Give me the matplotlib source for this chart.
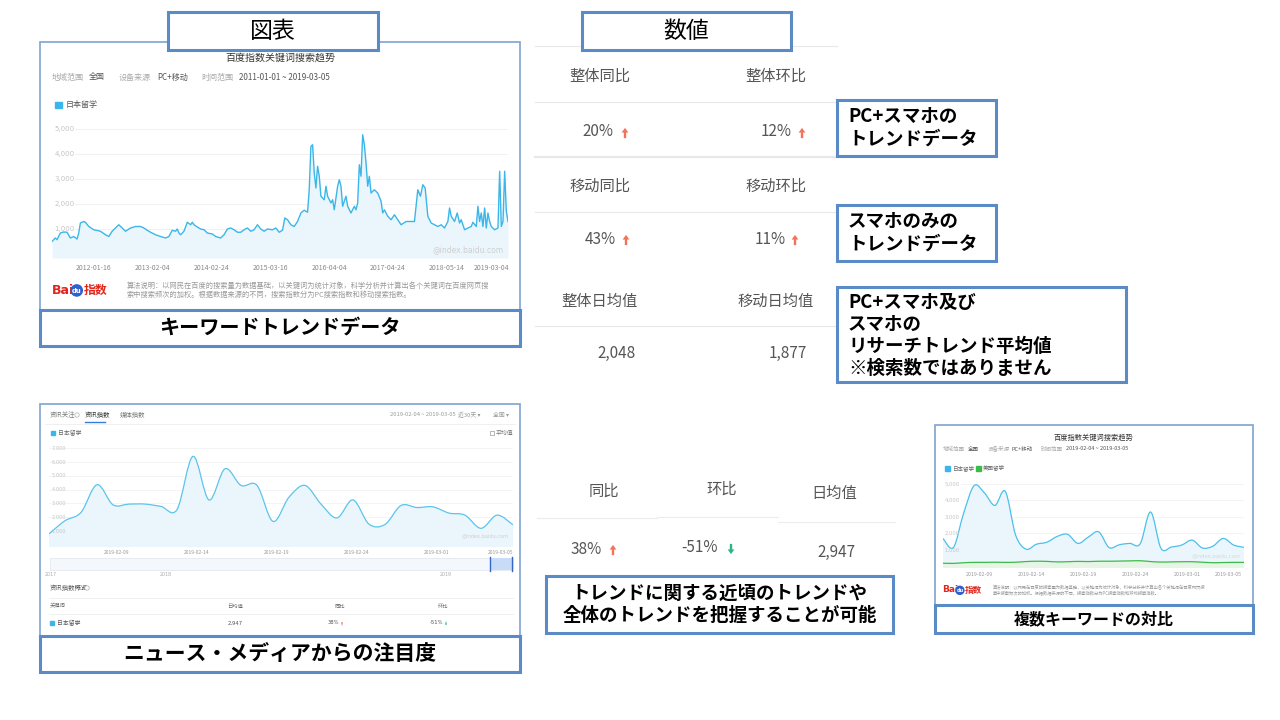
import numpy as np
import matplotlib
matplotlib.use('Agg')
import matplotlib.pyplot as plt
from matplotlib.patches import Rectangle, PathPatch, Circle, FancyArrow
from matplotlib.path import Path

plt.rcParams['font.family'] = ['Noto Sans CJK JP', 'DejaVu Sans']
SC = ['Noto Sans CJK SC', 'DejaVu Sans']
DJ = ['DejaVu Sans']

# ---------------- data ----------------
# long-term keyword trend (日本留学), relative time position and index value
trend_t = [3.5, 4.5, 5.0, 6.0, 7.0, 8.0, 9.0, 10.0, 11.0, 11.5, 12.0, 13.0, 13.5, 14.5, 16.0, 18.0,
           19.5, 20.5, 21.5, 22.5, 23.5, 24.5, 25.5, 27.0, 28.5, 30.0, 31.0, 32.0, 33.0, 34.5, 36.0,
           37.5, 38.5, 39.5, 40.5, 41.0, 41.5, 42.0, 43.0, 44.0, 45.0, 45.5, 46.0, 47.0, 48.0, 49.0,
           50.0, 51.5, 52.5, 54.0, 55.0, 56.0, 57.0, 58.0, 59.0, 60.0, 61.0, 62.0, 63.0, 64.0, 65.0,
           66.0, 67.0, 68.0, 69.5, 70.5, 71.5, 72.5, 73.2, 74.0, 75.0, 76.0, 77.0, 78.0, 79.0, 80.0,
           80.5, 81.0, 81.5, 82.0, 82.5, 83.0, 83.5, 84.0, 85.0, 85.5, 86.0, 87.0, 87.5, 88.0, 89.0,
           89.5, 90.0, 90.5, 91.5, 92.0, 93.0, 94.0, 94.5, 95.0, 95.5, 96.0, 96.5, 97.0, 97.5, 98.0,
           98.5, 99.0, 100.0, 101.0, 102.0, 102.5, 103.0, 104.0, 105.0, 106.0, 107.0, 108.0, 109.5,
           111.0, 112.0, 113.0, 113.8, 114.5, 115.2, 116.0, 117.0, 118.0, 119.0, 120.0, 121.0, 122.0,
           122.5, 123.0, 124.0, 124.8, 125.5, 126.0, 127.0, 128.0, 129.0, 129.5, 130.5, 131.0, 131.5,
           132.0, 132.5, 133.0, 133.5, 134.0, 134.5, 135.0, 136.0, 137.0, 137.5, 138.0, 138.5, 139.0,
           139.5, 140.0]
trend_val = [500, 640, 570, 840, 880, 870, 640, 700, 600, 840, 1240, 1300, 1270, 1100, 970, 910,
             770, 700, 910, 1040, 1170, 1040, 910, 1040, 1100, 1100, 1040, 950, 870, 770, 700,
             640, 700, 950, 910, 1000, 840, 770, 910, 1270, 1170, 1270, 1170, 1080, 1000, 970,
             840, 800, 700, 640, 770, 1000, 1040, 970, 870, 870, 970, 1040, 910, 970, 1170,
             1000, 910, 1000, 970, 1040, 870, 950, 1440, 1370, 1170, 1100, 1300, 1640, 1750, 1670,
             2570, 4300, 4370, 3240, 2640, 3510, 3110, 2310, 2170, 2710, 2310, 2040, 2170, 1770, 2710,
             2970, 2710, 1910, 2310, 1910, 1640, 1910, 1770, 2040, 3570, 3110, 4770, 4370, 3640, 2710,
             3110, 2440, 2570, 2440, 2110, 1640, 1770, 1510, 1370, 1570, 1370, 1170, 1300,
             1300, 1300, 2570, 2310, 2770, 2640, 1510, 1240, 1170, 1100, 1170, 1040, 1300,
             1840, 1510, 1300, 1640, 1240, 1370, 970, 1040, 1100, 1270, 1100, 1910, 1300,
             1640, 1100, 1840, 1040, 1640, 1300, 1100, 970, 1040, 3310, 1100, 1300, 3310,
             1710, 1300]
trend_ticks = [16.0, 33.5, 51.2, 68.8, 86.5, 104.0, 121.7, 135.0]
trend_tick_labels = ['2012-01-16', '2013-02-04', '2014-02-24', '2015-03-16', '2016-04-04',
                     '2017-04-24', '2018-05-14', '2019-03-04']
trend_yticks = [1000, 2000, 3000, 4000, 5000]

# news index (资讯指数), daily 2019-02-04 .. 2019-03-05
news_values = [800, 1750, 2350, 4350, 2900, 2950, 2950, 2780, 2550, 6400, 3250, 5500, 4300, 4300,
               1700, 3450, 4300, 2950, 1950, 3250, 1500, 1480, 2850, 2700, 2750, 2300, 2150, 1200,
               2150, 1450]
news_tick_idx = [5, 10, 15, 20, 25, 29]
news_tick_labels = ['2019-02-09', '2019-02-14', '2019-02-19', '2019-02-24', '2019-03-01', '2019-03-05']
news_yticks = [1000, 2000, 3000, 4000, 5000, 6000, 7000]

# comparison (日本留学 vs 美国留学), daily 2019-02-04 .. 2019-03-05
japan_values = [1700, 1150, 3250, 4900, 4450, 3700, 4550, 1900, 1050, 1350, 1470, 1820, 1950, 1400,
                1780, 2100, 1150, 1320, 1400, 1380, 3300, 1100, 1180, 1300, 1600, 1120, 1230, 1700,
                1300, 1160]
usa_values = [200, 190, 230, 250, 250, 260, 250, 260, 300, 320, 310, 280, 290, 310, 300, 320, 320,
              330, 340, 350, 300, 270, 280, 290, 290, 260, 230, 240, 250, 250]
cmp_tick_idx = [5, 10, 15, 20, 25, 29]
cmp_tick_labels = ['2019-02-09', '2019-02-14', '2019-02-19', '2019-02-24', '2019-03-01', '2019-03-05']
cmp_yticks = [1000, 2000, 3000, 4000, 5000]

# headline numbers
overall_headers = ['整体同比', '整体环比']
overall_values = ['20%', '12%']
mobile_headers = ['移动同比', '移动环比']
mobile_values = ['43%', '11%']
avg_headers = ['整体日均值', '移动日均值']
avg_values = ['2,048', '1,877']
news_headers = ['同比', '环比', '日均值']
news_stats = ['38%', '-51%', '2,947']

# ---------------- figure ----------------
W, H = 1280, 720
fig = plt.figure(figsize=(12.8, 7.2), dpi=100)
fig.patch.set_facecolor('white')
bg = fig.add_axes([0, 0, 1, 1])
bg.set_xlim(0, W)
bg.set_ylim(H, 0)
bg.axis('off')

BLUE_BOX = '#5B8BC6'
LINE = '#3BB6E8'
FILL = '#EAF6FC'
UP = '#F2735A'
DOWN = '#2DB38A'


def px_axes(x0, y0, x1, y1):
    ax = fig.add_axes([x0 / W, 1 - y1 / H, (x1 - x0) / W, (y1 - y0) / H])
    ax.patch.set_alpha(0)
    for s in ax.spines.values():
        s.set_visible(False)
    return ax


def box(x, y, w, h, lw=2.2, ec=BLUE_BOX, z=3):
    bg.add_patch(Rectangle((x, y), w, h, fc='white', ec=ec, lw=lw, zorder=z))


def arrow(x, y, up=True, s=1.0):
    col = UP if up else DOWN
    if up:
        bg.add_patch(FancyArrow(x, y + 6 * s, 0, -12 * s, width=2.8 * s, head_width=8 * s,
                                head_length=5.5 * s, length_includes_head=True, color=col, lw=0, zorder=4))
    else:
        bg.add_patch(FancyArrow(x, y - 6 * s, 0, 12 * s, width=2.8 * s, head_width=8 * s,
                                head_length=5.5 * s, length_includes_head=True, color=col, lw=0, zorder=4))


def smooth_path(x, y, base=None):
    x = np.asarray(x, float)
    y = np.asarray(y, float)
    n = len(x)
    verts = [(x[0], y[0])]
    codes = [Path.MOVETO]
    for i in range(n - 1):
        i0, i3 = max(i - 1, 0), min(i + 2, n - 1)
        c1 = (x[i] + (x[i + 1] - x[i0]) / 6, y[i] + (y[i + 1] - y[i0]) / 6)
        c2 = (x[i + 1] - (x[i3] - x[i]) / 6, y[i + 1] - (y[i3] - y[i]) / 6)
        verts += [c1, c2, (x[i + 1], y[i + 1])]
        codes += [Path.CURVE4] * 3
    if base is not None:
        verts += [(x[-1], base), (x[0], base), (x[0], y[0])]
        codes += [Path.LINETO, Path.LINETO, Path.CLOSEPOLY]
    return Path(verts, codes)


def baidu_logo(x, y, s):
    bg.text(x, y, 'Bai', color='#E1251B', fontsize=s, fontweight='bold', family=DJ,
            ha='left', va='center', zorder=5)
    bg.add_patch(Circle((x + s * 2.75, y + s * 0.05), s * 0.62, color='#2F5FD0', zorder=5))
    bg.text(x + s * 2.75, y + s * 0.12, 'du', color='white', fontsize=s * 0.55, fontweight='bold',
            family=DJ, ha='center', va='center', zorder=6)
    bg.text(x + s * 3.5, y, '指数', color='#E1251B', fontsize=s * 0.95, fontweight='bold', family=SC,
            ha='left', va='center', zorder=5)


# ---------- section title boxes ----------
box(40, 42, 480, 268, lw=1.2, ec='#7FA3D0', z=1)
box(168, 12, 210, 38)
bg.text(273, 31, '図表', fontsize=16.5, ha='center', va='center', zorder=4)
box(582, 12, 209, 38)
bg.text(686, 31, '数値', fontsize=16.5, ha='center', va='center', zorder=4)

# ---------- top-left: keyword trend screenshot ----------
bg.text(280, 58, '百度指数关键词搜索趋势', family=SC, fontsize=7.2, color='#333', ha='center', va='center', zorder=4)
for txt, xx, col in [('地域范围', 52, '#aaa'), ('全国', 89, '#555'), ('设备来源', 119, '#aaa'),
                     ('PC+移动', 157, '#555'), ('时间范围', 201, '#aaa'),
                     ('2011-01-01 ~ 2019-03-05', 239, '#555')]:
    bg.text(xx, 77, txt, family=SC, fontsize=5.8, color=col, ha='left', va='center', zorder=4)
bg.add_patch(Rectangle((55, 102), 7, 6, color=LINE, zorder=4))
bg.text(66, 105, '日本留学', family=SC, fontsize=5.8, color='#555', ha='left', va='center', zorder=4)

ax1 = px_axes(52, 118, 508, 258)
ax1.set_ylim(-160, 5440)
ax1.set_xlim(min(trend_t), max(trend_t))
for v in trend_yticks:
    ax1.axhline(v, xmin=0.05, color='#f1f1f1', lw=0.7, zorder=0)
    ax1.text(0.005, v, f'{v:,}', transform=ax1.get_yaxis_transform(), fontsize=5, color='#c4c4c4',
             ha='left', va='center', family=DJ)
ax1.fill_between(trend_t, trend_val, ax1.get_ylim()[0], color=FILL, lw=0, zorder=1)
ax1.plot(trend_t, trend_val, color=LINE, lw=1.0, zorder=2)
ax1.set_yticks([])
ax1.set_xticks(trend_ticks, trend_tick_labels)
ax1.tick_params(axis='x', length=0, labelsize=5, labelcolor='#8a8a8a', pad=4)
ax1.text(0.99, 0.06, '@index.baidu.com', transform=ax1.transAxes, fontsize=5.5, color='#cfcfcf',
         ha='right', va='center', family=DJ)

baidu_logo(52, 290, 9)
bg.text(127, 286, '算法说明：以网民在百度的搜索量为数据基础，以关键词为统计对象，科学分析并计算出各个关键词在百度网页搜',
        family=SC, fontsize=5.2, color='#999', ha='left', va='center', zorder=4)
bg.text(127, 295, '索中搜索频次的加权。根据数据来源的不同，搜索指数分为PC搜索指数和移动搜索指数。',
        family=SC, fontsize=5.2, color='#999', ha='left', va='center', zorder=4)

box(40, 310, 480, 36)
bg.text(280, 328, 'キーワードトレンドデータ', fontsize=14.5, fontweight='bold', ha='center', va='center', zorder=4)

# ---------- top-middle: numbers table ----------
for yy, lw in [(46, 0.8), (102, 0.8), (157, 1.6), (212, 0.8), (326, 0.8)]:
    bg.plot([535, 837], [yy, yy], color='#e8e8e8', lw=lw, zorder=1)


def stat_pair(headers, values, yh, yv, arrows):
    for hx, h in zip([600, 776], headers):
        bg.text(hx, yh, h, family=SC, fontsize=11, color='#555', ha='center', va='center', zorder=4)
    for (vx, ax_), v in zip(arrows, values):
        bg.text(vx, yv, v, family=SC, fontsize=11, color='#555', ha='center', va='center', zorder=4)
        if ax_ is not None:
            arrow(ax_, yv + 1, up=True, s=0.85)


stat_pair(overall_headers, overall_values, 76, 132, [(598, 625), (776, 802)])
stat_pair(mobile_headers, mobile_values, 186, 239, [(600, 626), (770, 795)])
stat_pair(avg_headers, avg_values, 301, 353, [(617, None), (788, None)])

box(837, 100, 159, 56)
bg.text(848, 128, 'PC+スマホの\nトレンドデータ', fontsize=13.3, fontweight='bold', ha='left', va='center',
        linespacing=1.25, zorder=4)
box(837, 205, 159, 56)
bg.text(848, 233, 'スマホのみの\nトレンドデータ', fontsize=13.3, fontweight='bold', ha='left', va='center',
        linespacing=1.25, zorder=4)
box(837, 287, 289, 95)
bg.text(848, 335, 'PC+スマホ及び\nスマホの\nリサーチトレンド平均値\n※検索数ではありません', fontsize=13.3,
        fontweight='bold', ha='left', va='center', linespacing=1.2, zorder=4)

# ---------- bottom-left: news index screenshot ----------
box(40, 404, 480, 232, lw=1.2, ec='#7FA3D0', z=1)
bg.text(50, 415, '资讯关注', family=SC, fontsize=4.6, color='#777', ha='left', va='center', zorder=4)
bg.add_patch(Circle((77, 415), 2.2, fc='white', ec='#bbb', lw=0.6, zorder=4))
bg.text(85, 415, '资讯指数', family=SC, fontsize=4.6, color='#333', ha='left', va='center', zorder=4)
bg.plot([85, 105], [422, 422], color='#3A7BD5', lw=1.0, zorder=4)
bg.text(120, 415, '媒体指数', family=SC, fontsize=4.6, color='#777', ha='left', va='center', zorder=4)
bg.text(390, 415, '2019-02-04 ~ 2019-03-05', family=SC, fontsize=4.2, color='#999', ha='left', va='center', zorder=4)
bg.text(458, 415, '近30天 ▾', family=SC, fontsize=4.2, color='#999', ha='left', va='center', zorder=4)
bg.text(493, 415, '全国 ▾', family=SC, fontsize=4.2, color='#999', ha='left', va='center', zorder=4)
bg.plot([45, 515], [423.5, 423.5], color='#eeeeee', lw=0.6, zorder=2)
bg.add_patch(Rectangle((51, 431), 4, 4, color=LINE, zorder=4))
bg.text(58, 433, '日本留学', family=SC, fontsize=4.2, color='#666', ha='left', va='center', zorder=4)
bg.add_patch(Rectangle((490, 431), 4, 4, fc='white', ec='#999', lw=0.5, zorder=4))
bg.text(496, 433, '平均值', family=SC, fontsize=4.2, color='#777', ha='left', va='center', zorder=4)

ax2 = px_axes(49, 440, 513, 547)
ax2.set_ylim(-150, 7580)
ax2.set_xlim(0, len(news_values) - 1)
news_x = np.arange(len(news_values))
for v in news_yticks:
    ax2.axhline(v, color='#f3f3f3', lw=0.6, zorder=0)
    ax2.text(0.005, v, f'{v:,}', transform=ax2.get_yaxis_transform(), fontsize=3.6, color='#c4c4c4',
             ha='left', va='center', family=DJ)
ax2.add_patch(PathPatch(smooth_path(news_x, news_values, ax2.get_ylim()[0]), fc=FILL, lw=0, zorder=1))
ax2.add_patch(PathPatch(smooth_path(news_x, news_values), fc='none', ec='#5CC4EC', lw=0.9, zorder=2))
ax2.set_yticks([])
ax2.set_xticks(np.array(news_tick_idx) - 0.8, news_tick_labels)
ax2.tick_params(axis='x', length=0, labelsize=3.6, labelcolor='#999', pad=2.5)
ax2.text(0.99, 0.1, '@index.baidu.com', transform=ax2.transAxes, fontsize=3.6, color='#cfcfcf',
         ha='right', va='center', family=DJ)

bg.add_patch(Rectangle((50, 558), 463, 12, fc='#f4f7fb', ec='#e3e8ef', lw=0.6, zorder=2))
bg.add_patch(Rectangle((490, 558), 22, 12, fc='#C9DCF7', ec='none', zorder=3))
bg.plot([490, 490], [557, 571], color='#3468C8', lw=1.0, zorder=4)
bg.plot([512, 512], [557, 571], color='#3468C8', lw=1.0, zorder=4)
for txt, xx in [('2017', 45), ('2018', 160), ('2019', 440)]:
    bg.text(xx, 574, txt, family=DJ, fontsize=3.4, color='#aaa', ha='left', va='center', zorder=4)
bg.text(50, 588, '资讯指数概览', family=SC, fontsize=4.6, color='#555', ha='left', va='center', zorder=4)
bg.add_patch(Circle((87, 588), 2.2, fc='white', ec='#bbb', lw=0.6, zorder=4))
bg.plot([49, 513], [598, 598], color='#eeeeee', lw=0.6, zorder=2)
bg.plot([49, 513], [614, 614], color='#eeeeee', lw=0.6, zorder=2)
for txt, xx in [('关键词', 50), ('日均值', 235), ('同比', 340), ('环比', 443)]:
    bg.text(xx, 606, txt, family=SC, fontsize=3.8, color='#666', ha='center' if xx > 60 else 'left',
            va='center', zorder=4)
bg.add_patch(Rectangle((50, 621), 4, 4, color=LINE, zorder=4))
bg.text(57, 623, '日本留学', family=SC, fontsize=4.2, color='#555', ha='left', va='center', zorder=4)
bg.text(235, 623, news_stats[2], family=DJ, fontsize=3.8, color='#555', ha='center', va='center', zorder=4)
bg.text(333, 623, news_stats[0], family=DJ, fontsize=3.8, color='#555', ha='center', va='center', zorder=4)
arrow(342, 623.5, up=True, s=0.3)
bg.text(436, 623, news_stats[1], family=DJ, fontsize=3.8, color='#555', ha='center', va='center', zorder=4)
arrow(446, 623.5, up=False, s=0.3)

box(40, 636, 480, 36)
bg.text(280, 654, 'ニュース・メディアからの注目度', fontsize=15, fontweight='bold', ha='center', va='center', zorder=4)

# ---------- bottom-middle: news stats ----------
for (x0, x1, yy) in [(537, 657, 518), (657, 778, 517), (778, 895, 522)]:
    bg.plot([x0, x1], [yy, yy], color='#ececec', lw=0.8, zorder=1)
for hx, hy, h in zip([604, 722, 834], [491, 489, 493], news_headers):
    bg.text(hx, hy, h, family=SC, fontsize=11, color='#555', ha='center', va='center', zorder=4)
bg.text(586, 549, news_stats[0], family=SC, fontsize=11, color='#555', ha='center', va='center', zorder=4)
arrow(613, 550, up=True, s=0.85)
bg.text(700, 548, news_stats[1], family=SC, fontsize=11, color='#555', ha='center', va='center', zorder=4)
arrow(731, 549, up=False, s=0.85)
bg.text(837, 552, news_stats[2], family=SC, fontsize=11, color='#555', ha='center', va='center', zorder=4)

box(546, 576, 347, 57)
bg.text(719.5, 604.5, 'トレンドに関する近頃のトレンドや\n全体のトレンドを把握することが可能', fontsize=13.3,
        fontweight='bold', ha='center', va='center', linespacing=1.25, zorder=4)

# ---------- bottom-right: comparison screenshot ----------
box(935, 425, 318, 180, lw=1.2, ec='#7FA3D0', z=1)
bg.text(1093, 438, '百度指数关键词搜索趋势', family=SC, fontsize=5.2, color='#333', ha='center', va='center', zorder=4)
for txt, xx, col in [('地域范围', 943, '#aaa'), ('全国', 968, '#555'), ('设备来源', 988, '#aaa'),
                     ('PC+移动', 1012, '#555'), ('时间范围', 1041, '#aaa'),
                     ('2019-02-04 ~ 2019-03-05', 1066, '#555')]:
    bg.text(xx, 449, txt, family=SC, fontsize=4.0, color=col, ha='left', va='center', zorder=4)
bg.add_patch(Rectangle((945, 465.5), 5, 5, color=LINE, zorder=4))
bg.text(952, 468, '日本留学', family=SC, fontsize=4.0, color='#666', ha='left', va='center', zorder=4)
bg.add_patch(Rectangle((976, 465.5), 5, 5, color='#3DBB47', zorder=4))
bg.text(983, 468, '美国留学', family=SC, fontsize=4.0, color='#666', ha='left', va='center', zorder=4)

ax3 = px_axes(943, 478, 1244, 568)
ax3.set_ylim(-90, 5360)
ax3.set_xlim(0, len(japan_values) - 1)
cmp_x = np.arange(len(japan_values))
for v in cmp_yticks:
    ax3.axhline(v, xmin=0.06, color='#f3f3f3', lw=0.6, zorder=0)
    ax3.text(0.005, v, f'{v:,}', transform=ax3.get_yaxis_transform(), fontsize=3.8, color='#c4c4c4',
             ha='left', va='center', family=DJ)
ax3.add_patch(PathPatch(smooth_path(cmp_x, japan_values, ax3.get_ylim()[0]), fc=FILL, lw=0, zorder=1))
ax3.add_patch(PathPatch(smooth_path(cmp_x, usa_values, ax3.get_ylim()[0]), fc='#E6F5E6', lw=0, zorder=1.5))
ax3.add_patch(PathPatch(smooth_path(cmp_x, japan_values), fc='none', ec='#4CC0EA', lw=0.9, zorder=2))
ax3.add_patch(PathPatch(smooth_path(cmp_x, usa_values), fc='none', ec='#3DBB47', lw=0.9, zorder=2))
ax3.set_yticks([])
ax3.set_xticks(np.array(cmp_tick_idx) - 1.5, cmp_tick_labels)
ax3.tick_params(axis='x', length=0, labelsize=3.8, labelcolor='#999', pad=3)
ax3.text(0.99, 0.14, '@index.baidu.com', transform=ax3.transAxes, fontsize=3.8, color='#d8d8d8',
         ha='right', va='center', family=DJ)

baidu_logo(942, 590, 6.5)
bg.text(993, 587, '算法说明：以网民在百度的搜索量为数据基础，以关键词为统计对象，科学分析并计算出各个关键词在百度网页搜',
        family=SC, fontsize=3.1, color='#999', ha='left', va='center', zorder=4)
bg.text(993, 593, '索中搜索频次的加权。根据数据来源的不同，搜索指数分为PC搜索指数和移动搜索指数。',
        family=SC, fontsize=3.1, color='#999', ha='left', va='center', zorder=4)

box(935, 605, 318, 28)
bg.text(1094, 619, '複数キーワードの対比', fontsize=11.5, fontweight='bold', ha='center', va='center', zorder=4)

fig.savefig('out.png', dpi=100, facecolor='white')
